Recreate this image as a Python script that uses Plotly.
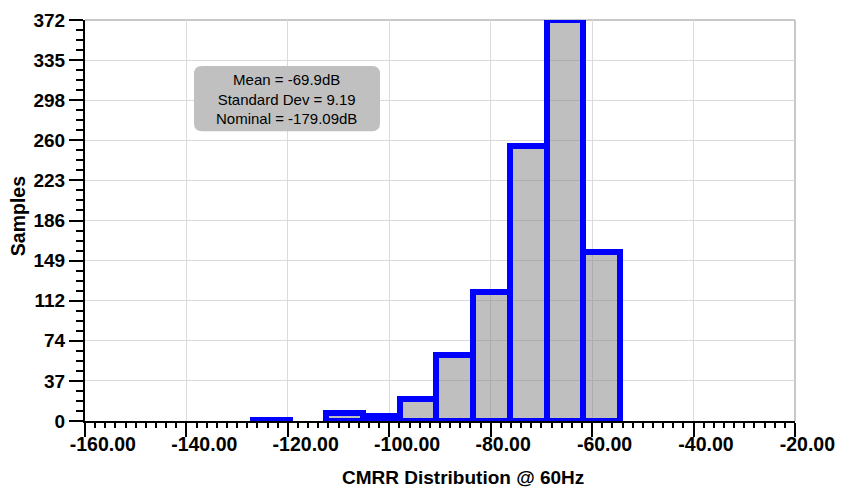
import plotly.graph_objects as go

# Histogram of CMRR at 60 Hz (Monte Carlo samples)
bin_left = [-126.90, -112.42, -105.18, -97.94, -90.70, -83.46, -76.22, -68.98, -61.74]
bin_width = 7.24
counts = [1, 7, 5, 20, 61, 120, 255, 372, 157]

x_ticks = [-160, -140, -120, -100, -80, -60, -40, -20]
y_tick_labels = ["0", "37", "74", "112", "149", "186", "223", "260", "298", "335", "372"]
y_max = 372

stats_lines = ["Mean = -69.9dB", "Standard Dev = 9.19", "Nominal = -179.09dB"]
x_title = "CMRR Distribution @ 60Hz"
y_title = "Samples"

FONT = "Liberation Sans, Arial, sans-serif"

centers = [left + bin_width / 2 for left in bin_left]
y_tick_vals = [i * y_max / (len(y_tick_labels) - 1) for i in range(len(y_tick_labels))]

fig = go.Figure()
fig.add_trace(go.Bar(
    x=centers,
    y=counts,
    width=bin_width,
    marker=dict(color="rgba(128,128,128,0.5)", line=dict(color="#0000ff", width=6)),
    hoverinfo="x+y",
))

# rounded statistics box
x0, x1, y0, y1 = 0.1535, 0.4155, 0.7228, 0.8851
rx, ry = 8 / 710, 8 / 400.5
box_path = (
    f"M {x0 + rx},{y1} L {x1 - rx},{y1} Q {x1},{y1} {x1},{y1 - ry} "
    f"L {x1},{y0 + ry} Q {x1},{y0} {x1 - rx},{y0} "
    f"L {x0 + rx},{y0} Q {x0},{y0} {x0},{y0 + ry} "
    f"L {x0},{y1 - ry} Q {x0},{y1} {x0 + rx},{y1} Z"
)

fig.update_layout(
    width=841,
    height=488,
    margin=dict(l=85, r=46, t=20, b=67, pad=0, autoexpand=False),
    paper_bgcolor="white",
    plot_bgcolor="white",
    showlegend=False,
    bargap=0,
    font=dict(family=FONT, color="black"),
    shapes=[
        dict(type="path", xref="paper", yref="paper", path=box_path,
             fillcolor="#c0c0c0", line=dict(width=0), layer="above"),
        dict(type="line", xref="paper", yref="paper", x0=0, x1=1, y0=1, y1=1,
             line=dict(color="#c8c8c8", width=2), layer="below"),
        dict(type="line", xref="paper", yref="paper", x0=1, x1=1, y0=0, y1=1,
             line=dict(color="#c8c8c8", width=2), layer="below"),
    ],
    annotations=[
        dict(text="<br>".join(stats_lines), xref="paper", yref="paper",
             x=(x0 + x1) / 2, y=(y0 + y1) / 2, xanchor="center", yanchor="middle",
             showarrow=False, font=dict(size=15, family=FONT, color="black")),
        dict(text=x_title, xref="paper", yref="paper", x=0.532, y=-0.14,
             xanchor="center", yanchor="middle", showarrow=False,
             font=dict(size=19, family=FONT, weight="bold", color="black")),
        dict(text=y_title, xref="paper", yref="paper", x=-0.0944, y=0.5106,
             xanchor="center", yanchor="middle", textangle=-90, showarrow=False,
             font=dict(size=19.5, family=FONT, weight="bold", color="black")),
    ],
)

fig.update_xaxes(
    range=[-160, -20],
    automargin=False,
    tickmode="array",
    tickvals=x_ticks,
    ticktext=[f"{v:.2f}" for v in x_ticks],
    ticklabelposition="outside right",
    ticklabelshift=-17,
    ticklabelstandoff=5,
    ticklabeloverflow="allow",
    ticks="outside", ticklen=14, tickwidth=1.5, tickcolor="black",
    minor=dict(dtick=2, tick0=-160, ticks="outside", ticklen=5, tickwidth=1.5,
               tickcolor="black", showgrid=False),
    showline=True, linecolor="black", linewidth=2,
    showgrid=True, gridcolor="#dadada", gridwidth=1,
    zeroline=False,
    tickfont=dict(size=19.5, family=FONT, weight="bold", color="black"),
)

fig.update_yaxes(
    range=[0, y_max],
    automargin=False,
    tickmode="array",
    tickvals=y_tick_vals,
    ticktext=y_tick_labels,
    ticks="outside", ticklen=14, tickwidth=1.5, tickcolor="black",
    minor=dict(dtick=y_max / 40, tick0=0, ticks="outside", ticklen=7, tickwidth=1.5,
               tickcolor="black", showgrid=False),
    showline=True, linecolor="black", linewidth=2,
    showgrid=True, gridcolor="#dadada", gridwidth=1,
    zeroline=False,
    tickfont=dict(size=19, family=FONT, weight="bold", color="black"),
)

fig.write_html("out.html")
